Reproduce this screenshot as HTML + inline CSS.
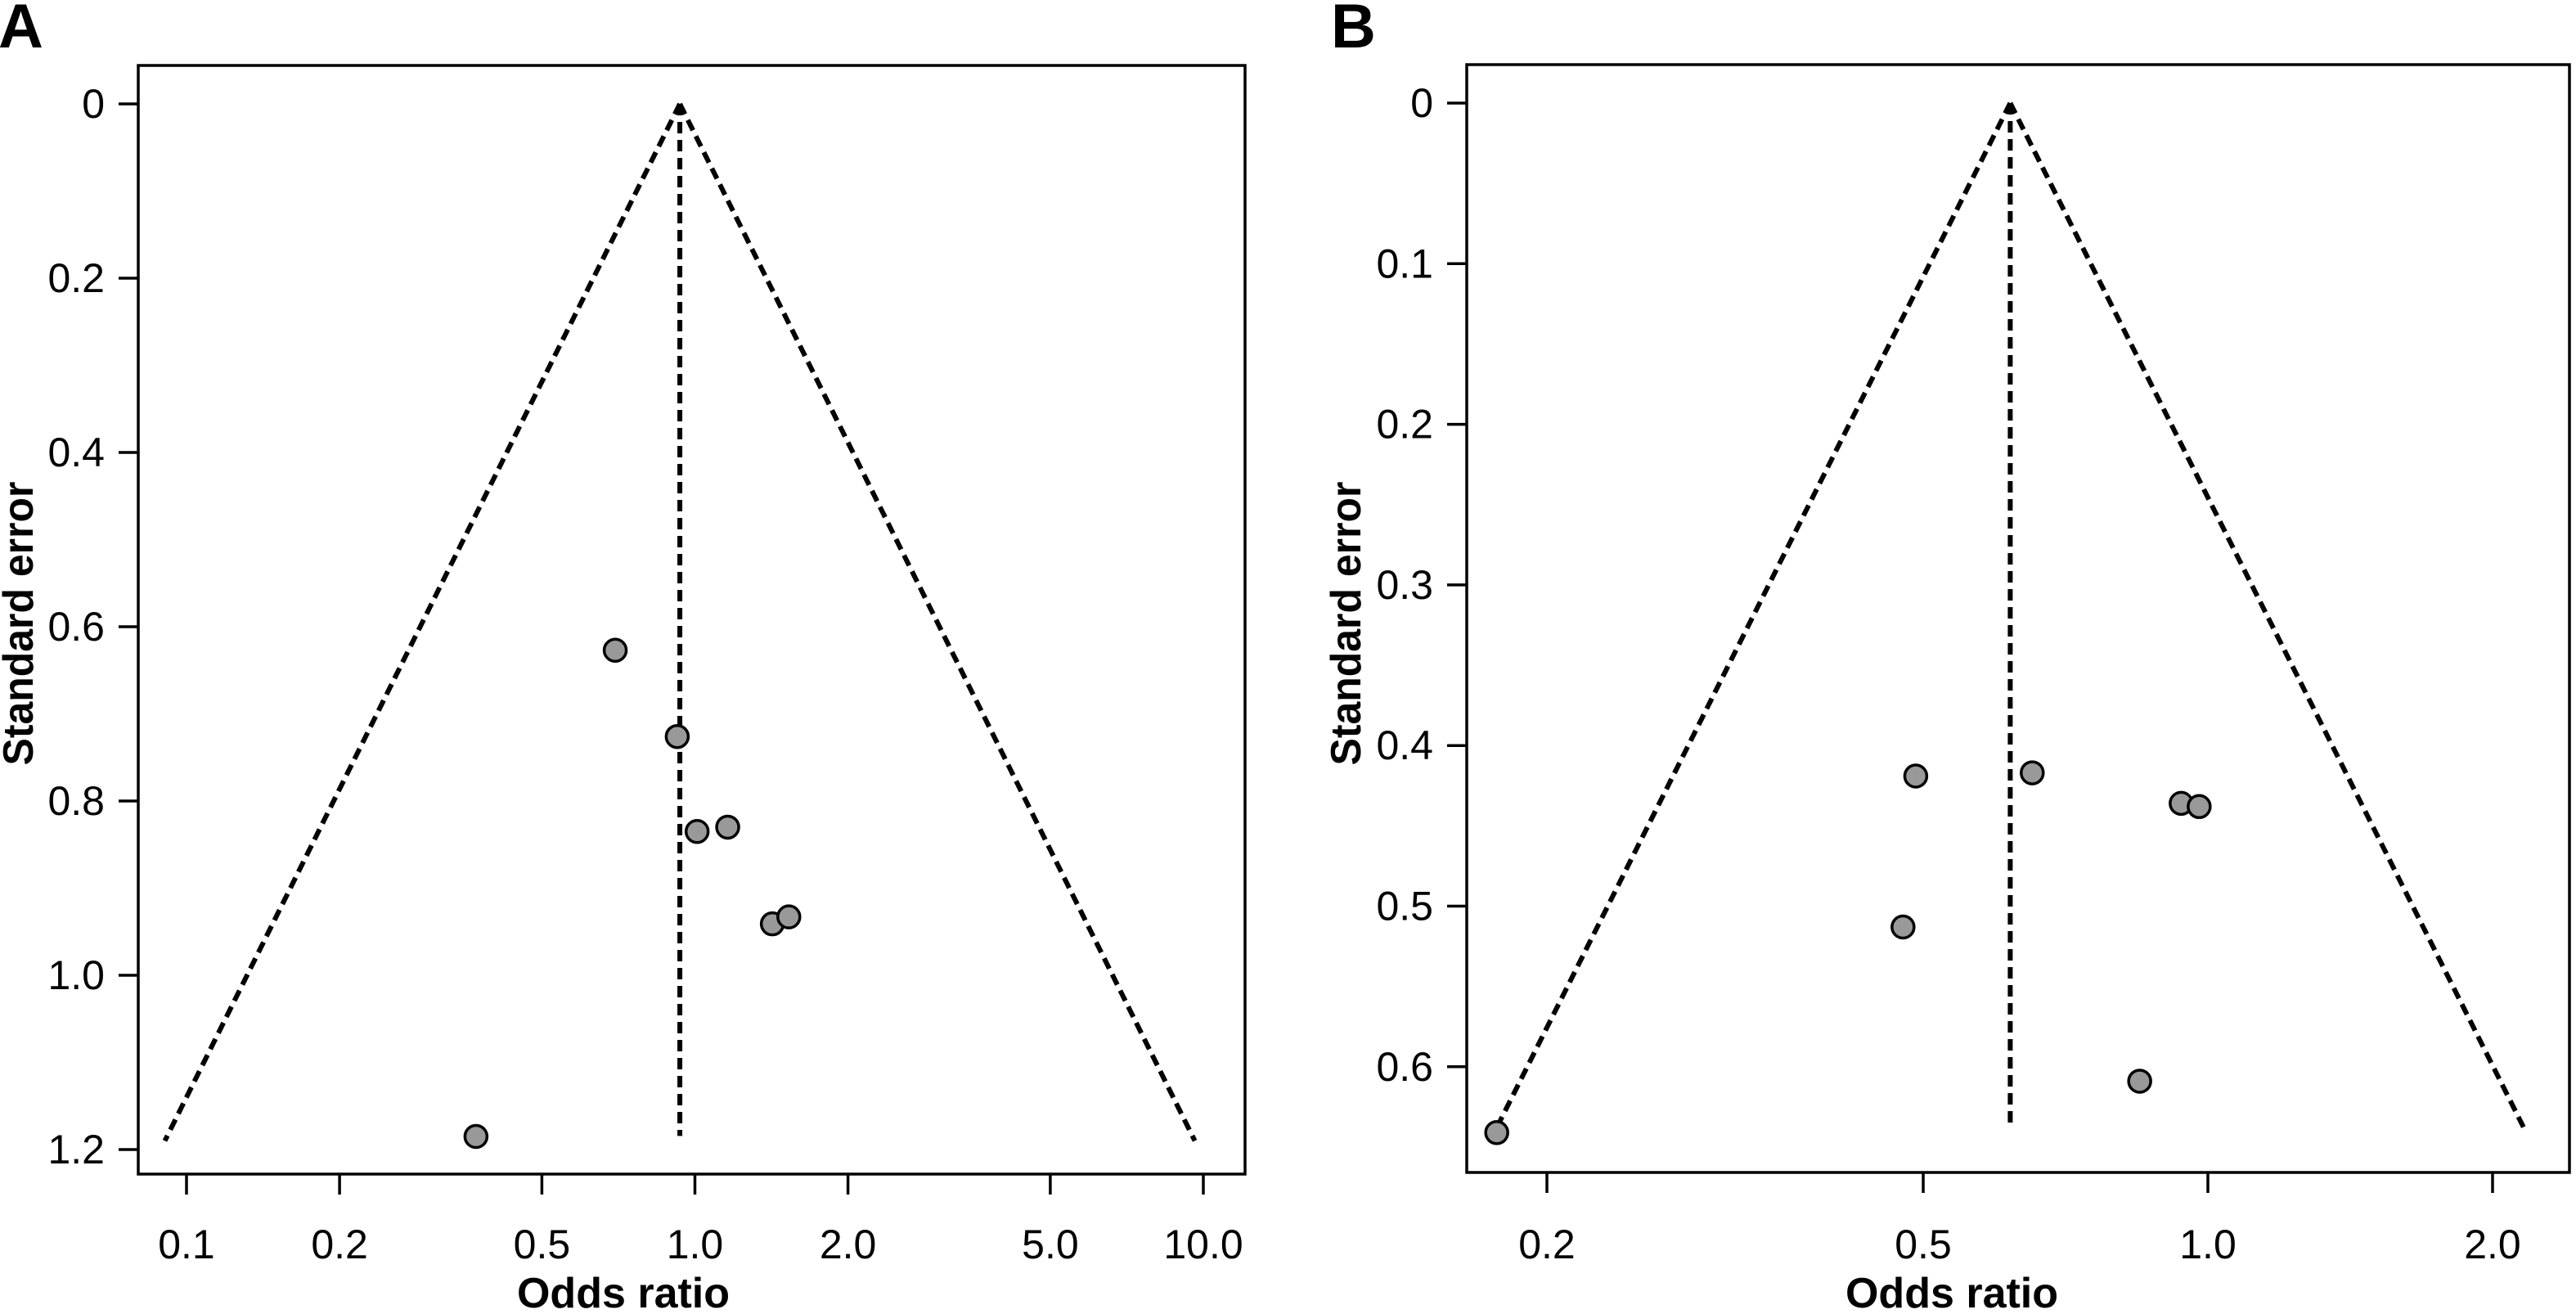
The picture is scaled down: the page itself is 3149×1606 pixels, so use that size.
<!DOCTYPE html>
<html><head><meta charset="utf-8"><style>
html,body{margin:0;padding:0;background:#fff;}
svg{display:block;}
text{font-family:"Liberation Sans",sans-serif;fill:#000;}
</style></head>
<body>
<svg id="chart" width="3149" height="1606" viewBox="0 0 3149 1606" xmlns="http://www.w3.org/2000/svg"></svg>
<script>
// Panel A data
const aOddsRatio = [0.697, 0.923, 1.01, 1.16, 1.42, 1.53, 0.371];
const aStdError = [0.627, 0.726, 0.835, 0.830, 0.941, 0.933, 1.185];
const aPooledOR = 0.934;
const aMaxSE = 1.19;
const aXTicks = [0.1, 0.2, 0.5, 1.0, 2.0, 5.0, 10.0];
const aXTickLabels = ["0.1", "0.2", "0.5", "1.0", "2.0", "5.0", "10.0"];
const aYTicks = [0, 0.2, 0.4, 0.6, 0.8, 1.0, 1.2];
const aYTickLabels = ["0", "0.2", "0.4", "0.6", "0.8", "1.0", "1.2"];
// Panel B data
const bOddsRatio = [0.491, 0.652, 0.937, 0.979, 0.476, 0.847, 0.177];
const bStdError = [0.419, 0.417, 0.436, 0.438, 0.513, 0.609, 0.641];
const bPooledOR = 0.618;
const bMaxSE = 0.641;
const bXTicks = [0.2, 0.5, 1.0, 2.0];
const bXTickLabels = ["0.2", "0.5", "1.0", "2.0"];
const bYTicks = [0, 0.1, 0.2, 0.3, 0.4, 0.5, 0.6];
const bYTickLabels = ["0", "0.1", "0.2", "0.3", "0.4", "0.5", "0.6"];

const NS = "http://www.w3.org/2000/svg";
const svg = document.getElementById("chart");
function mk(tag, attrs, parent) {
  const e = document.createElementNS(NS, tag);
  for (const k in attrs) e.setAttribute(k, attrs[k]);
  (parent || svg).appendChild(e);
  return e;
}

function panel(cfg) {
  const g = mk("g", {});
  
  
  const xs = v => cfg.x0px + (Math.log10(v) - Math.log10(cfg.x0v)) * cfg.decade;
  const ys = v => cfg.y0px + v * cfg.perUnit;

  const frame = mk("rect", {x: cfg.left, y: cfg.top, width: cfg.right - cfg.left, height: cfg.bottom - cfg.top, fill: "none", stroke: "#000", "stroke-width": 3.5}, g);
  
  

  cfg.yTicks.forEach((v, i) => {
    const y = ys(v);
    const t = mk("line", {x1: cfg.left - 24, x2: cfg.left, y1: y, y2: y, stroke: "#000", "stroke-width": 3.5}, g);
    
    
    const l = mk("text", {x: cfg.left - 41, y: y + 17, "font-size": 50, "text-anchor": "end"}, g);
    l.textContent = cfg.yLabels[i];
    
    
  });
  cfg.xTicks.forEach((v, i) => {
    const x = xs(v);
    const t = mk("line", {x1: x, x2: x, y1: cfg.bottom, y2: cfg.bottom + 25, stroke: "#000", "stroke-width": 3.5}, g);
    
    
    const l = mk("text", {x: x, y: 1538, "font-size": 50, "text-anchor": "middle"}, g);
    l.textContent = cfg.xLabels[i];
    
    
  });

  const apexX = xs(cfg.pooled), apexY = ys(0);
  const lnHalf = 1.96 * cfg.maxSE;
  const lo = cfg.pooled * Math.exp(-lnHalf), hi = cfg.pooled * Math.exp(lnHalf);
  const by = ys(cfg.maxSE);
  const dash = {stroke: "#000", "stroke-width": 6, "stroke-dasharray": "14 8", fill: "none"};
  const f1 = mk("line", Object.assign({x1: apexX, y1: apexY, x2: xs(lo), y2: by}, dash), g);
  
  
  const f2 = mk("line", Object.assign({x1: apexX, y1: apexY, x2: xs(hi), y2: by}, dash), g);
  
  
  const f3 = mk("line", Object.assign({x1: apexX, y1: apexY, x2: apexX, y2: by - 6}, dash), g);
  
  

  cfg.or.forEach((v, i) => {
    const c = mk("circle", {cx: xs(v), cy: ys(cfg.se[i]), r: 13.5, fill: "#999", stroke: "#000", "stroke-width": 3.5}, g);
    
    
  });

  const xt = mk("text", {x: cfg.xTitleX, y: 1598, "font-size": 52, "font-weight": "bold", "text-anchor": "middle"}, g);
  xt.textContent = "Odds ratio";
  
  
  const yt = mk("text", {x: 0, y: 0, "font-size": 52, "font-weight": "bold", "text-anchor": "middle", textLength: 347, lengthAdjust: "spacingAndGlyphs", transform: "translate(" + cfg.yTitleX + ",762) rotate(-90)"}, g);
  yt.textContent = "Standard error";
  
  
  const pl = mk("text", {x: cfg.letterX, y: 58, "font-size": 76, "font-weight": "bold"}, g);
  pl.textContent = cfg.letter;
  
  
}

panel({name: "panel-a", letter: "A", letterX: -2, left: 169, right: 1522, top: 80, bottom: 1435,
  x0v: 0.1, x0px: 228, decade: 621.5, y0px: 127, perUnit: 1065,
  xTicks: aXTicks, xLabels: aXTickLabels, yTicks: aYTicks, yLabels: aYTickLabels,
  or: aOddsRatio, se: aStdError, pooled: aPooledOR, maxSE: aMaxSE, xTitleX: 762, yTitleX: 40});
panel({name: "panel-b", letter: "B", letterX: 1627, left: 1793, right: 3141, top: 79, bottom: 1433,
  x0v: 0.2, x0px: 1891, decade: 1156, y0px: 126, perUnit: 1963,
  xTicks: bXTicks, xLabels: bXTickLabels, yTicks: bYTicks, yLabels: bYTickLabels,
  or: bOddsRatio, se: bStdError, pooled: bPooledOR, maxSE: bMaxSE, xTitleX: 2386, yTitleX: 1663});
</script>
</body></html>
